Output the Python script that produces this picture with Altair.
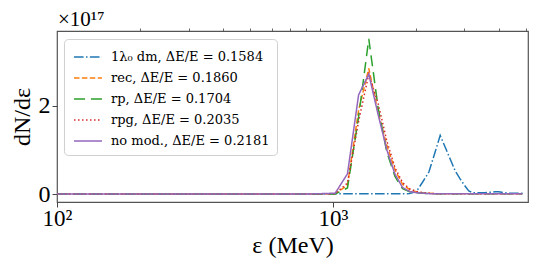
import altair as alt
import pandas as pd

# energy grid (MeV)
energy = [100, 140, 250, 360, 470, 580, 690, 800, 910, 1020, 1130, 1240, 1350, 1460,
          1570, 1680, 1790, 1900, 2010, 2120, 2230, 2340, 2450, 2560, 2670, 2780, 2890,
          3000, 3110, 3220, 3330, 3440, 3550, 3660, 3770, 3880, 3990, 4100, 4210, 4320,
          4430, 4540, 4650, 4760, 4870]

# dN/dε in units of 1e17
dm = [0, 0, 0, 0, 0, 0, 0, 0, 0, 0.005, 0.005, 0.005, 0.005, 0.005,
      0.005, 0.005, 0.005, 0.01, 0.06, 0.28, 0.5, 0.92, 1.33, 1.05, 0.78, 0.52, 0.35,
      0.2, 0.07, 0.03, 0.03, 0.03, 0.03, 0.04, 0.04, 0.05, 0.05, 0.04, 0.03, 0.02,
      0.02, 0.02, 0.02, 0.02, 0.02]
rec = [0, 0, 0, 0, 0, 0, 0, 0, 0.005, 0.01, 0.2, 1.9, 2.85, 1.85,
       1.1, 0.55, 0.22, 0.1, 0.05, 0.03, 0.02, 0.01, 0.01, 0.01, 0.01, 0.01, 0.01,
       0.01, 0.01, 0.01, 0.01, 0.01, 0.01, 0.01, 0.01, 0.01, 0.01, 0.01, 0.01, 0.01,
       0.01, 0.01, 0.01, 0.01, 0.01]
rp = [0, 0, 0, 0, 0, 0, 0, 0, 0, 0.0, 0.14, 1.75, 3.52, 1.95,
      0.95, 0.4, 0.12, 0.05, 0.03, 0.02, 0.01, 0.01, 0.01, 0.01, 0.01, 0.01, 0.01,
      0.01, 0.01, 0.01, 0.01, 0.01, 0.01, 0.01, 0.01, 0.01, 0.01, 0.01, 0.01, 0.01,
      0.01, 0.01, 0.01, 0.01, 0.01]
rpg = [0, 0, 0, 0, 0, 0, 0, 0, 0.005, 0.01, 0.25, 1.65, 2.72, 2.05,
       1.2, 0.6, 0.26, 0.12, 0.06, 0.03, 0.02, 0.01, 0.01, 0.01, 0.01, 0.01, 0.01,
       0.01, 0.01, 0.01, 0.01, 0.01, 0.01, 0.01, 0.01, 0.01, 0.01, 0.01, 0.01, 0.01,
       0.01, 0.01, 0.01, 0.01, 0.01]
nomod = [0, 0, 0, 0, 0, 0, 0, 0, 0.01, 0.02, 0.46, 2.25, 2.72, 1.8,
         1.0, 0.45, 0.15, 0.06, 0.03, 0.02, 0.01, 0.01, 0.01, 0.01, 0.01, 0.01, 0.01,
         0.01, 0.01, 0.01, 0.01, 0.01, 0.01, 0.01, 0.01, 0.01, 0.01, 0.01, 0.01, 0.01,
         0.01, 0.01, 0.01, 0.01, 0.01]

labels = ["1λ₀ dm, ΔE/E = 0.1584", "rec, ΔE/E = 0.1860", "rp, ΔE/E = 0.1704",
          "rpg, ΔE/E = 0.2035", "no mod., ΔE/E = 0.2181"]
colors = ["#1f77b4", "#ff7f0e", "#2ca02c", "#d62728", "#9467bd"]
dashes = [[9.6, 2.4, 1.5, 2.4], [5.5, 2.4], [11, 6], [1.5, 2.5], [1, 0]]

rows = []
for i, (lab, ser) in enumerate(zip(labels, [dm, rec, rp, rpg, nomod])):
    for e, v in zip(energy, ser):
        rows.append({"E": e, "v": v, "series": lab})
df = pd.DataFrame(rows)

FONT = "Liberation Serif"
LFONT = "DejaVu Serif"
xscale = alt.Scale(type="log", domain=[100, 5100], nice=False)

lines = alt.Chart(df).mark_line(strokeWidth=1.5, clip=True).encode(
    x=alt.X("E:Q", scale=xscale,
            axis=alt.Axis(values=[100, 1000], labelExpr="datum.value == 100 ? '10²' : '10³'",
                          tickSize=5, tickWidth=1, tickColor="#444", domain=False, grid=False,
                          labelFlush=False, labelBound=False,
                          labelFont=FONT, labelFontSize=23, labelColor="black", labelPadding=0,
                          title="ε (MeV)", titleFont=FONT, titleFontSize=24,
                          titleFontWeight="normal", titleColor="black", titlePadding=3)),
    y=alt.Y("v:Q", scale=alt.Scale(domain=[-0.18, 3.70], nice=False, zero=False),
            axis=alt.Axis(values=[0, 2], format="d", tickSize=5, tickWidth=1, tickColor="#444",
                          domain=False, grid=False, labelFont=FONT, labelFontSize=24,
                          labelColor="black", labelPadding=2,
                          title="dN/dε", titleFont=FONT, titleFontSize=24,
                          titleFontWeight="normal", titleColor="black", titlePadding=4)),
    color=alt.Color("series:N", scale=alt.Scale(domain=labels, range=colors),
                    legend=alt.Legend(title=None, orient="none", legendX=7, legendY=8,
                                      symbolType="M-1.4,0H1.4", symbolSize=400,
                                      symbolStrokeWidth=1.5, labelFont=LFONT,
                                      labelFontSize=13, labelColor="black",
                                      labelOffset=12, rowPadding=3, padding=7,
                                      fillColor="white", strokeColor="#d0d0d0",
                                      cornerRadius=4, symbolOffset=6)),
    strokeDash=alt.StrokeDash("series:N", scale=alt.Scale(domain=labels, range=dashes),
                              legend=None),
    detail="series:N",
)

minor = alt.Chart(pd.DataFrame({"E": [100]})).mark_point(opacity=0).encode(
    x=alt.X("E:Q", scale=xscale,
            axis=alt.Axis(values=[200, 300, 400, 500, 600, 700, 800, 900, 2000, 3000, 4000, 5000],
                          labels=False, tickSize=3, tickWidth=0.8, tickColor="#444",
                          domain=False, grid=False, title=None)),
)

offset = alt.Chart(pd.DataFrame({"t": ["×10¹⁷"]})).mark_text(
    align="left", baseline="bottom", font=FONT, fontSize=21, color="black"
).encode(x=alt.value(1), y=alt.value(-1), text="t:N")

chart = alt.layer(lines, minor, offset).resolve_axis(x="independent").properties(
    width=471, height=171,
    autosize=alt.AutoSizeParams(type="none"),
    padding={"left": 49, "top": 23, "right": 4, "bottom": 60},
).configure_view(stroke="#555", strokeWidth=1.2)

chart.save("out.html", embed_options={"renderer": "svg", "actions": False})
